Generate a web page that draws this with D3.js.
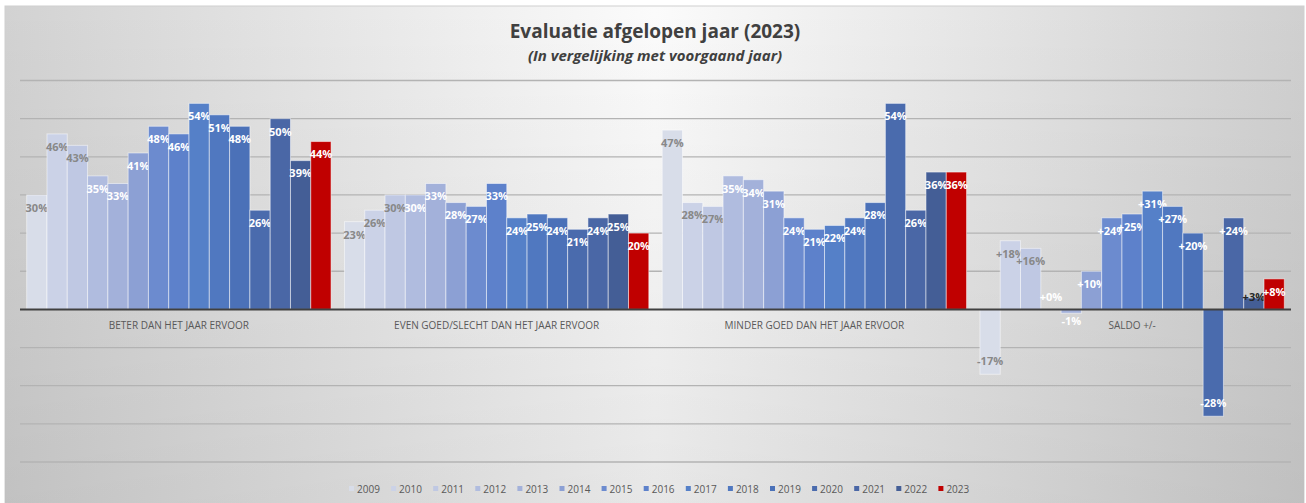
<!DOCTYPE html>
<html>
<head>
<meta charset="utf-8">
<script src="https://cdn.jsdelivr.net/npm/d3@7"></script>
<style>
  html, body { margin: 0; padding: 0; background: #ffffff; }
  svg { display: block; font-family: "Open Sans", "Liberation Sans", sans-serif; }
</style>
</head>
<body>
<div id="chart"></div>
<script>
// categories and series
const categories = ["BETER DAN HET JAAR ERVOOR", "EVEN GOED/SLECHT DAN HET JAAR ERVOOR", "MINDER GOED DAN HET JAAR ERVOOR", "SALDO +/-"];
const years = ["2009", "2010", "2011", "2012", "2013", "2014", "2015", "2016", "2017", "2018", "2019", "2020", "2021", "2022", "2023"];

// values per category, one per year
const beter  = [30, 46, 43, 35, 33, 41, 48, 46, 54, 51, 48, 26, 50, 39, 44];
const even   = [23, 26, 30, 30, 33, 28, 27, 33, 24, 25, 24, 21, 24, 25, 20];
const minder = [47, 28, 27, 35, 34, 31, 24, 21, 22, 24, 28, 54, 26, 36, 36];
const saldo  = [-17, 18, 16, 0, -1, 10, 24, 25, 31, 27, 20, -28, 24, 3, 8];

const yTicks = [-40, -30, -20, -10, 0, 10, 20, 30, 40, 50, 60];

const colors = ["#d8dde9", "#cbd2e7", "#bfc8e3", "#b0bcdf", "#a3b1da", "#8ca0d4", "#6c8bcf", "#5d81cb",
                "#5580c8", "#5078c0", "#4b71b8", "#4a6bad", "#4a67a6", "#445e96", "#c00000"];
const labelColors = ["#888888", "#888888", "#888888", "#ffffff", "#ffffff", "#ffffff", "#ffffff", "#ffffff",
                     "#ffffff", "#ffffff", "#ffffff", "#ffffff", "#ffffff", "#ffffff", "#ffffff"];

const rows = [beter, even, minder, saldo];

const width = 1306, height = 503;
const plotLeft = 20, plotRight = 1291;

const svg = d3.select("#chart").append("svg")
    .attr("width", width)
    .attr("height", height);

// background
const defs = svg.append("defs");
const hGrad = defs.append("linearGradient").attr("id", "bgH").attr("x1", 0).attr("x2", 1).attr("y1", 0).attr("y2", 0);
hGrad.append("stop").attr("offset", 0).attr("stop-color", "#d2d2d2");
hGrad.append("stop").attr("offset", 0.5).attr("stop-color", "#fbfbfb");
hGrad.append("stop").attr("offset", 1).attr("stop-color", "#d0d0d0");
const vGrad = defs.append("linearGradient").attr("id", "bgV").attr("x1", 0).attr("x2", 0).attr("y1", 0).attr("y2", 1);
vGrad.append("stop").attr("offset", 0).attr("stop-color", "#000").attr("stop-opacity", 0);
vGrad.append("stop").attr("offset", 1).attr("stop-color", "#000").attr("stop-opacity", 0.08);

svg.append("rect").attr("x", 5).attr("y", 6).attr("width", 1299).attr("height", 500)
    .attr("fill", "url(#bgH)").attr("stroke", "#d0d0d0");
svg.append("rect").attr("x", 5).attr("y", 6).attr("width", 1299).attr("height", 500)
    .attr("fill", "url(#bgV)");

// scales
const y = d3.scaleLinear().domain([-40, 60]).range([462, 80.5]);
const x0 = d3.scaleBand().domain(categories).range([plotLeft, plotRight]).paddingInner(0).paddingOuter(0);
const x1 = d3.scaleBand().domain(years).range([0, x0.bandwidth()]).paddingInner(0).paddingOuter(0.33);

// gridlines
svg.append("g")
  .selectAll("line")
  .data(yTicks.filter(d => d !== 0))
  .enter()
  .append("line")
    .attr("x1", plotLeft)
    .attr("x2", plotRight)
    .attr("y1", d => y(d))
    .attr("y2", d => y(d))
    .style("stroke", "#b3b3b3")
    .style("stroke-width", 1.3);

// bars
const groups = svg.append("g")
  .selectAll("g")
  .data(categories)
  .enter()
  .append("g")
    .attr("transform", d => `translate(${x0(d)},0)`);

const bars = groups.selectAll("g")
  .data((c, ci) => years.map((yr, i) => ({ cat: ci, year: yr, i: i, value: rows[ci][i] })))
  .enter()
  .append("g");

bars.append("rect")
    .attr("x", d => x1(d.year))
    .attr("width", x1.bandwidth())
    .attr("y", d => y(Math.max(0, d.value)))
    .attr("height", d => Math.abs(y(d.value) - y(0)))
    .attr("fill", d => colors[d.i])
    .attr("stroke", "rgba(255,255,255,0.5)")
    .attr("stroke-width", 1);

// zero line
svg.append("line")
    .attr("x1", plotLeft)
    .attr("x2", plotRight)
    .attr("y1", y(0))
    .attr("y2", y(0))
    .style("stroke", "#404040")
    .style("stroke-width", 2);

// data labels (inside end)
bars.append("text")
    .attr("x", d => x1(d.year) + x1.bandwidth() / 2)
    .attr("y", d => {
      if (d.value >= 0) return Math.min(y(d.value) + 13, y(0) - 12);
      return Math.max(y(d.value) - 13, y(0) + 12);
    })
    .attr("dy", "0.35em")
    .attr("text-anchor", "middle")
    .style("font-size", "11px")
    .style("font-weight", "bold")
    .style("fill", d => (d.cat === 3 && d.year === "2022") ? "#262626" : labelColors[d.i])
    .text(d => (d.cat === 3 && d.value >= 0 ? "+" : "") + d.value + "%");

// category labels
svg.append("g")
  .selectAll("text")
  .data(categories)
  .enter()
  .append("text")
    .attr("x", d => x0(d) + x0.bandwidth() / 2)
    .attr("y", y(0) + 20)
    .attr("text-anchor", "middle")
    .style("font-size", "10px")
    .style("fill", "#595959")
    .text(d => d);

// title
svg.append("text")
    .attr("x", 655)
    .attr("y", 38)
    .attr("text-anchor", "middle")
    .style("font-size", "19px")
    .style("font-weight", "bold")
    .style("fill", "#404040")
    .text("Evaluatie afgelopen jaar (2023)");

svg.append("text")
    .attr("x", 655)
    .attr("y", 61)
    .attr("text-anchor", "middle")
    .style("font-size", "15px")
    .style("font-weight", "bold")
    .style("font-style", "italic")
    .style("fill", "#404040")
    .text("(In vergelijking met voorgaand jaar)");

// legend
const legend = svg.append("g")
  .selectAll("g")
  .data(years)
  .enter()
  .append("g")
    .attr("transform", (d, i) => `translate(${349 + i * 42.1},489)`);

legend.append("rect")
    .attr("x", 0)
    .attr("y", -3)
    .attr("width", 5)
    .attr("height", 5)
    .attr("fill", (d, i) => colors[i]);

legend.append("text")
    .attr("x", 8)
    .attr("dy", "0.35em")
    .style("font-size", "10px")
    .style("fill", "#595959")
    .text(d => d);
</script>
</body>
</html>
